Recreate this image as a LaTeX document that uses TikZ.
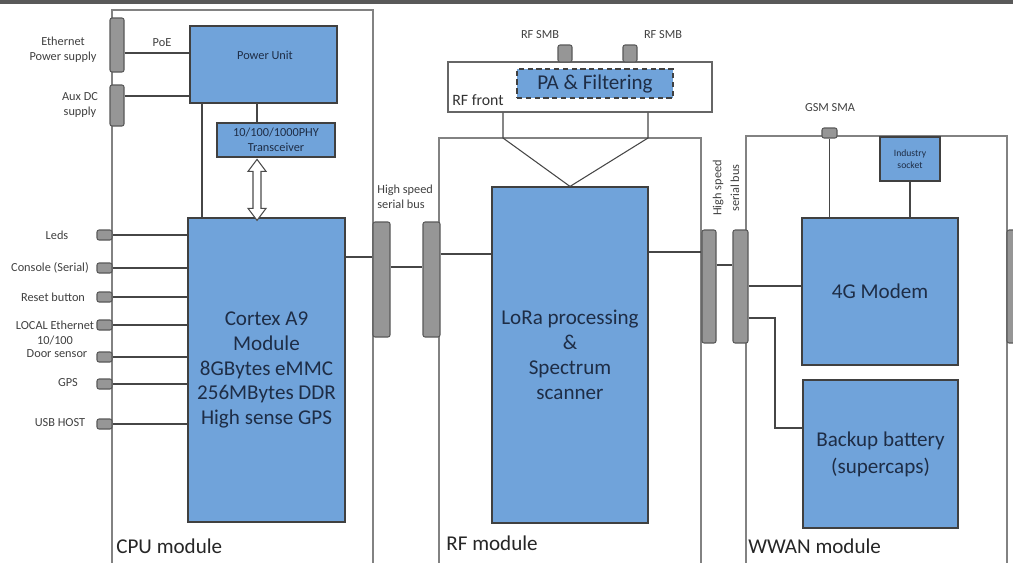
\documentclass[tikz,border=0pt]{standalone}
\usepackage{fontspec}
\setmainfont{Carlito}
\usetikzlibrary{arrows.meta}

\definecolor{boxblue}{RGB}{112,163,218}
\definecolor{boxtext}{RGB}{30,45,70}
\definecolor{wiregray}{RGB}{70,70,70}
\definecolor{modgray}{RGB}{130,130,130}
\definecolor{conngray}{RGB}{150,150,150}

\begin{document}
\begin{tikzpicture}[x=0.02cm,y=-0.02cm,
    blockbox/.style={draw=black!75,fill=boxblue,line width=0.7pt,inner sep=0pt,text=boxtext,align=center},
    modbox/.style={draw=modgray,line width=0.9pt,inner sep=0pt},
    connbox/.style={draw=black!65,fill=conngray,line width=0.6pt,rounded corners=1.2pt,inner sep=0pt},
    wire/.style={draw=wiregray,line width=0.6pt},
    smalltxt/.style={font=\fontsize{7}{8.5}\selectfont,text=black!75,inner sep=0pt,align=center},
    bigtxt/.style={font=\fontsize{12}{14.2}\selectfont,text=boxtext,align=center},
    modtxt/.style={font=\fontsize{12}{14}\selectfont,text=black!85,anchor=west,inner sep=0pt}]
    \useasboundingbox (0,0) rectangle (1013,562);
    \clip (0,0) rectangle (1013,562);
    \fill[white] (0,0) rectangle (1013,562);
    \fill[black!65] (0,0) rectangle (1013,4);

    % modules
    \node[modbox,minimum width=5.22cm,minimum height=11.3cm] (cpumod) at (242.5,292.5) {};
    \node[modbox,minimum width=5.24cm,minimum height=8.74cm] (rfmod) at (570,356.5) {};
    \node[modbox,minimum width=5.22cm,minimum height=8.78cm] (wwanmod) at (876.5,355.5) {};
    \node[modtxt] (cpulbl) at (116,546) {CPU module};
    \node[modtxt] (rflbl) at (446,543) {RF module};
    \node[modtxt] (wwanlbl) at (748,546) {WWAN module};

    % CPU module
    \node[blockbox,minimum width=2.94cm,minimum height=1.54cm] (power) at (263.5,64.5) {};
    \node[smalltxt,text=boxtext] (powerlbl) at (265,55) {Power Unit};
    \node[blockbox,font=\fontsize{7}{8.5}\selectfont,minimum width=2.36cm,minimum height=0.68cm] (phy) at (276,140) {10/100/1000PHY\\Transceiver};
    \node[blockbox,bigtxt,minimum width=3.14cm,minimum height=6.08cm] (cortex) at (266.5,370)
        {Cortex A9\\Module\\8GBytes eMMC\\256MBytes DDR\\High sense GPS};

    \node[connbox,minimum width=0.28cm,minimum height=1.08cm] (ethconn) at (117,45) {};
    \node[connbox,minimum width=0.28cm,minimum height=0.82cm] (auxconn) at (117,105.5) {};
    \node[smalltxt] (ethlbl) at (63,50) {Ethernet\\Power supply};
    \node[smalltxt] (auxlbl) at (80,105) {Aux DC\\supply};
    \node[smalltxt] (poelbl) at (162,43) {PoE};

    \foreach \cy/\ly/\lx/\txt [count=\i] in {235/235/57/Leds, 268/268/50/Console (Serial),
        297/297/53/Reset button, 325/333/55/{LOCAL Ethernet\\10/100}, 357/354/57/Door sensor,
        384/383/68/GPS, 424/423/60/USB HOST}{
        \node[connbox,minimum width=0.3cm,minimum height=0.2cm] (io\i) at (104.5,\cy) {};
        \node[smalltxt] (iolbl\i) at (\lx,\ly) {\txt};
        \draw[wire] (io\i.east) -- (io\i.east -| cortex.west);
    }

    % serial bus CPU - RF
    \node[connbox,minimum width=0.34cm,minimum height=2.3cm] (bus1a) at (381.5,279.5) {};
    \node[connbox,minimum width=0.34cm,minimum height=2.3cm] (bus1b) at (431.5,279.5) {};
    \node[smalltxt,align=left,anchor=west] (bus1lbl) at (377,196.5) {High speed\\serial bus};

    % RF module
    \node[draw=black!60,fill=white,line width=0.7pt,minimum width=5.28cm,minimum height=1cm] (rffront) at (580,87) {};
    \node[blockbox,densely dashed,font=\fontsize{12}{14}\selectfont,minimum width=3.12cm,minimum height=0.58cm] (pa) at (595,83.5) {PA \& Filtering};
    \node[font=\fontsize{9}{10}\selectfont,text=black!80,anchor=west,inner sep=0pt] (rffrontlbl) at (452,100) {RF front};
    \node[connbox,minimum width=0.28cm,minimum height=0.34cm] (smba) at (565,53.5) {};
    \node[connbox,minimum width=0.28cm,minimum height=0.34cm] (smbb) at (630,53.5) {};
    \node[smalltxt] (smbalbl) at (540,35) {RF SMB};
    \node[smalltxt] (smbblbl) at (663,35) {RF SMB};
    \node[blockbox,bigtxt,minimum width=3.12cm,minimum height=6.72cm] (lora) at (570,355)
        {LoRa processing\\\&\\Spectrum\\scanner};

    % serial bus RF - WWAN
    \node[connbox,minimum width=0.28cm,minimum height=2.26cm] (bus2a) at (709,286.5) {};
    \node[connbox,minimum width=0.3cm,minimum height=2.26cm] (bus2b) at (740.5,286.5) {};
    \node[connbox,minimum width=0.3cm,minimum height=2.26cm] (bus3) at (1014.5,286.5) {};
    \node[smalltxt,font=\fontsize{7}{10}\selectfont,rotate=90] (bus2lbl) at (726,188) {High speed\\serial bus};

    % WWAN module
    \node[blockbox,bigtxt,minimum width=3.12cm,minimum height=2.94cm] (modem) at (880,291.5) {4G Modem};
    \node[blockbox,bigtxt,font=\fontsize{12}{15.5}\selectfont,minimum width=3.1cm,minimum height=2.96cm] (battery) at (880.5,454) {Backup battery\\(supercaps)};
    \node[blockbox,font=\fontsize{5.5}{6.5}\selectfont,minimum width=1.2cm,minimum height=0.88cm] (sensor) at (910,159) {Industry\\socket};
    \node[connbox,minimum width=0.3cm,minimum height=0.2cm] (gsm) at (829.5,133) {};
    \node[smalltxt] (gsmlbl) at (830,108) {GSM SMA};

    % wires
    \coordinate (ypoe) at (0,53);
    \coordinate (yaux) at (0,96);
    \draw[wire] (ethconn.east |- ypoe) -- (power.west |- ypoe);
    \draw[wire] (auxconn.east |- yaux) -- (power.west |- yaux);
    \coordinate (pwrtap) at (202,103);
    \coordinate (phytap) at (257,103);
    \draw[wire] (pwrtap) -- (pwrtap |- cortex.north);
    \draw[wire] (phytap) -- (phytap |- phy.north);
    % hollow double arrow phy <-> cortex
    \draw[draw=black!70,fill=white,line width=0.6pt,line join=miter]
        ([yshift=-1pt]phytap |- phy.south) -- ++(9,12) -- ++(-5,0) -- ++(0,37) -- ++(5,0)
        -- ++(-9,12) -- ++(-9,-12) -- ++(5,0) -- ++(0,-37) -- ++(-5,0) -- cycle;

    \coordinate (ya) at (0,257);
    \coordinate (yb) at (0,267);
    \coordinate (yc) at (0,254);
    \draw[wire] (cortex.east |- ya) -- (bus1a.west |- ya);
    \draw[wire] (bus1a.east |- yb) -- (bus1b.west |- yb);
    \draw[wire] (bus1b.east |- yc) -- (lora.west |- yc);

    \coordinate (rfa) at (503,138);
    \coordinate (rfb) at (648,138);
    \draw[wire] (rfa |- rffront.south) -- (rfa) -- (lora.north);
    \draw[wire] (rfb |- rffront.south) -- (rfb) -- (lora.north);

    \coordinate (yd) at (0,252);
    \coordinate (ye) at (0,265);
    \coordinate (yf) at (0,286);
    \coordinate (yg) at (0,318);
    \coordinate (bat) at (775,428);
    \draw[wire] (lora.east |- yd) -- (bus2a.west |- yd);
    \draw[wire] (bus2a.east |- ye) -- (bus2b.west |- ye);
    \draw[wire] (bus2b.east |- yf) -- (modem.west |- yf);
    \draw[wire] (bus2b.east |- yg) -- (bat |- yg) -- (bat) -- (battery.west |- bat);
    \draw[wire] (gsm.south) -- (gsm.south |- modem.north);
    \draw[wire] (sensor.south) -- (sensor.south |- modem.north);
\end{tikzpicture}
\end{document}
